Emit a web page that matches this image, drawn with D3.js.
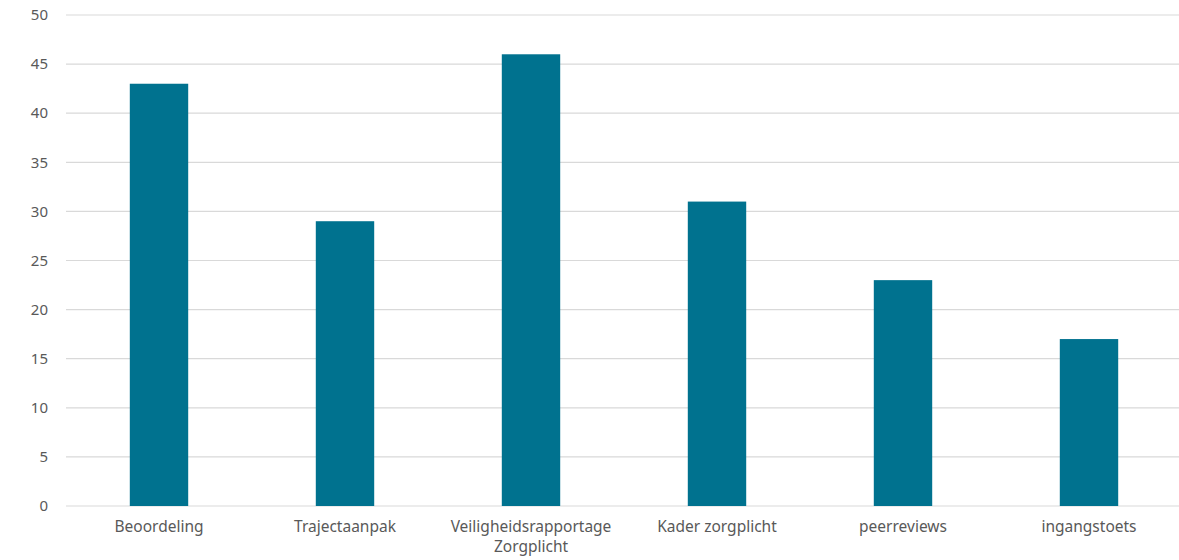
<!DOCTYPE html>
<html><head><meta charset="utf-8">
<script src="https://cdn.jsdelivr.net/npm/d3@7"></script>
<style>body{margin:0;background:#fff}svg{display:block}text{font-family:"Noto Sans",sans-serif;fill:#595959}</style>
</head><body><svg id="c" width="1179" height="560"></svg>
<script>
const categories = ["Beoordeling","Trajectaanpak","Veiligheidsrapportage\nZorgplicht","Kader zorgplicht","peerreviews","ingangstoets"];
const values = [43,29,46,31,23,17];
const yTicks = [0,5,10,15,20,25,30,35,40,45,50];

const svg = d3.select("#c");
const x = d3.scaleBand().domain(categories).range([66,1182]).paddingInner(0.686).paddingOuter(0.343);
const y = d3.scaleLinear().domain([0,50]).range([506,15]);

svg.append("g").selectAll("line").data(yTicks).join("line")
  .attr("x1",66).attr("x2",1179).attr("y1",d=>y(d)).attr("y2",d=>y(d))
  .attr("stroke","#d9d9d9").attr("stroke-width",1.2);

svg.append("g").selectAll("text").data(yTicks).join("text")
  .attr("x",48).attr("y",d=>y(d)).attr("dy","0.35em").attr("text-anchor","end")
  .attr("font-size",15).text(d=>d);

svg.append("g").selectAll("rect").data(values).join("rect")
  .attr("x",(d,i)=>x(categories[i])).attr("width",x.bandwidth())
  .attr("y",d=>y(d)).attr("height",d=>y(0)-y(d)).attr("fill","#00728f");

const lab = svg.append("g").selectAll("text").data(categories).join("text")
  .attr("x",d=>x(d)+x.bandwidth()/2).attr("y",532).attr("text-anchor","middle").attr("font-size",15.5);
lab.each(function(d){
  const t=d3.select(this);
  d.split("\n").forEach((s,k)=>t.append("tspan").attr("x",x(d)+x.bandwidth()/2).attr("dy",k?20:0).text(s));
});
</script></body></html>
